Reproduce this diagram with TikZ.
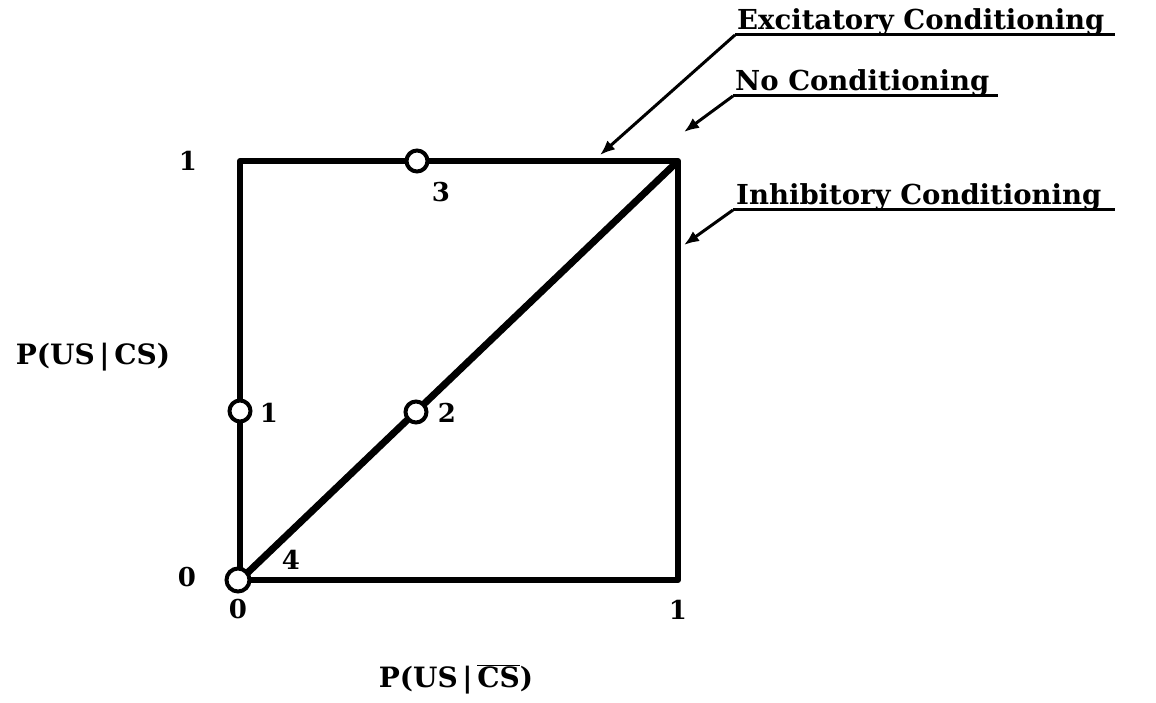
\documentclass[tikz,border=0pt]{standalone}
\usepackage{fontspec}
\setmainfont{DejaVu Serif}
\usetikzlibrary{arrows.meta}
\begin{document}
\begin{tikzpicture}[x=1pt,y=-1pt,
  frame/.style={line width=6pt,line join=round},
  diag/.style={line width=7pt},
  pt/.style={circle,draw,fill=white,line width=4pt,minimum size=21pt,inner sep=0pt},
  lbl/.style={font=\bfseries\fontsize{26}{26}\selectfont,inner sep=0pt},
  axl/.style={font=\bfseries\fontsize{28}{28}\selectfont,inner sep=0pt},
  tag/.style={font=\bfseries\fontsize{27.5}{27.5}\selectfont,inner sep=0pt,anchor=base west},
  leader/.style={line width=3pt,-{Latex[length=15pt,width=12pt]}},
  uline/.style={line width=3pt}]
\useasboundingbox (0,0) rectangle (1156,703);
% corners
\coordinate (BL) at (240,580);
\coordinate (BR) at (678,580);
\coordinate (TR) at (678,161);
\coordinate (TL) at (240,161);
\draw[frame] (BL) -- (TL) -- (TR) -- (BR) -- cycle;
\draw[diag] (BL) -- (TR);
% points
\node[pt] (p1) at (240,411) {};
\node[pt] (p2) at (416,412) {};
\node[pt] (p3) at (417,161) {};
\node[pt,minimum size=23pt] (p4) at (238,580) {};
% point labels
\node[lbl] (l1) at (269,413) {1};
\node[lbl] (l2) at (447,413) {2};
\node[lbl] (l3) at (441,192) {3};
\node[lbl] (l4) at (291,560) {4};
% axis ticks
\node[lbl] (y1) at (188,161) {1};
\node[lbl] (y0) at (187,577) {0};
\node[lbl] (x0) at (238,609) {0};
\node[lbl] (x1) at (678,610) {1};
% axis titles
\node[axl] (ylab) at (93,357) {P(US\,|\,CS)};
\node[axl] (xlab) at (456,679) {P(US\,|\,$\overline{\mbox{CS}}$)};
% tags
\node[tag] (ex) at (737,30) {Excitatory Conditioning};
\node[tag] (no) at (735,91) {No Conditioning};
\node[tag] (in) at (736,205) {Inhibitory Conditioning};
\coordinate (exs) at (735,35);
\coordinate (exe) at (1115,35);
\coordinate (nos) at (733,96);
\coordinate (noe) at (998,96);
\coordinate (ins) at (733,210);
\coordinate (ine) at (1115,210);
\coordinate (ext) at (600,155);
\coordinate (not) at (684,132);
\coordinate (int) at (684,245);
\draw[uline] (exs) -- (exe);
\draw[uline] (nos) -- (noe);
\draw[uline] (ins) -- (ine);
\draw[leader] (exs) -- (ext);
\draw[leader] (nos) -- (not);
\draw[leader] (ins) -- (int);
\end{tikzpicture}
\end{document}
